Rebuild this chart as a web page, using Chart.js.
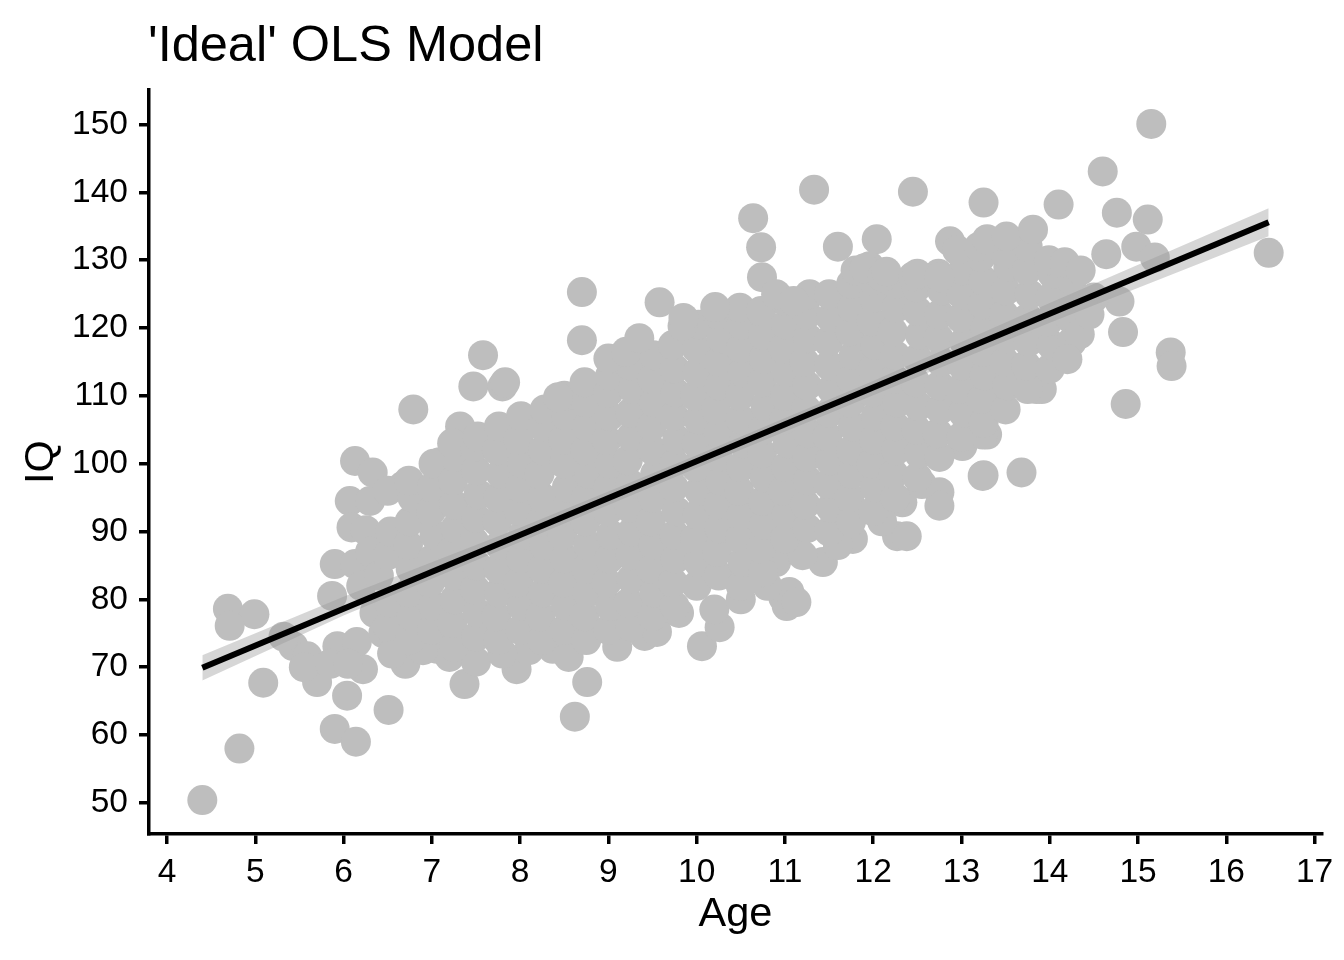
<!DOCTYPE html>
<html>
<head>
<meta charset="utf-8">
<title>'Ideal' OLS Model</title>
<script src="https://cdn.jsdelivr.net/npm/chart.js@4.4.1/dist/chart.umd.min.js"></script>
<style>
    html, body { margin: 0; padding: 0; background: #fff; }
    #wrap { width: 1344px; height: 960px; }
</style>
</head>
<body>
<div id="wrap"><canvas id="olsChart" width="1344" height="960"></canvas></div>
<script>
// Axis ticks
const xTicks = [4, 5, 6, 7, 8, 9, 10, 11, 12, 13, 14, 15, 16, 17];
const yTicks = [50, 60, 70, 80, 90, 100, 110, 120, 130, 140, 150];

// Fitted OLS line and its confidence band
const fitAge = [4.4, 16.48];
const fitIQ = [69.9, 135.6];
const bandAge = [4.4, 6, 8, 10, 12, 14, 16.48];
const bandLow = [68.05, 77.6, 88.45, 99.35, 110.1, 120.8, 133.55];
const bandHigh = [71.75, 80.4, 90.55, 101.25, 112.2, 123.7, 137.65];

// Scattered points on the low / left side of the cloud [age, IQ]
const leftTail = [
    [4.40, 50.4], [4.82, 58.0], [5.09, 67.7], [4.69, 78.6], [4.99, 77.8], [4.71, 76.1],
    [5.90, 60.9], [6.14, 59.0], [6.51, 63.7], [5.43, 73.1], [5.59, 71.6], [5.70, 67.8],
    [6.04, 65.8], [6.22, 69.7], [5.93, 73.1], [6.15, 73.7], [5.55, 70.0], [5.85, 70.5],
    [6.05, 70.5], [5.32, 74.5], [5.87, 80.5], [5.90, 85.2], [6.13, 85.2], [6.07, 94.5],
    [6.09, 90.6], [6.25, 90.2], [6.30, 87.0], [6.20, 82.0], [6.35, 78.0], [6.45, 75.0],
    [6.40, 83.5], [6.30, 94.5], [6.13, 100.4], [6.33, 98.7], [6.67, 96.7], [6.70, 70.5],
    [6.79, 108.0], [7.09, 100.2], [7.32, 105.5], [7.06, 72.7], [7.37, 67.5], [7.20, 71.5],
    [7.50, 70.8], [7.96, 69.7], [6.55, 72.0], [6.90, 72.5]
];

// Points under the cloud, middle and right
const lowerEdge = [
    [8.76, 67.8], [8.62, 62.7], [8.37, 72.7], [8.55, 71.5], [9.10, 73.0], [9.41, 74.6],
    [9.55, 79.6], [9.53, 77.0], [9.55, 75.2], [10.06, 73.1], [10.26, 75.9], [10.98, 80.3],
    [11.02, 79.0], [11.05, 81.1], [11.13, 79.6], [10.20, 78.5], [10.50, 80.0], [10.80, 82.0],
    [10.90, 85.5], [11.43, 85.5], [11.20, 86.5], [11.77, 88.9], [11.60, 88.0], [12.27, 89.3],
    [12.38, 89.3], [12.33, 94.3], [12.10, 91.5], [12.75, 95.8], [12.75, 93.8], [12.55, 97.0],
    [13.01, 102.6], [13.25, 98.3], [13.68, 98.7], [13.29, 104.3], [13.08, 108.8], [13.32, 111.0],
    [13.85, 111.0], [13.62, 112.9], [13.91, 111.0], [13.68, 113.5], [13.24, 104.3], [13.09, 108.3],
    [13.24, 98.2], [9.80, 78.0], [8.10, 72.5], [7.80, 72.0]
];

// Points above the cloud
const upperEdge = [
    [7.47, 111.4], [7.80, 111.4], [7.83, 112.0], [7.58, 116.0], [8.43, 109.8], [8.70, 118.2],
    [8.70, 125.3], [9.00, 115.5], [9.20, 116.5], [9.35, 118.5], [9.58, 123.8], [9.84, 120.3],
    [9.85, 121.5], [10.21, 123.1], [10.74, 127.5], [10.90, 125.0], [11.10, 124.0], [10.64, 136.2],
    [10.73, 131.9], [11.33, 140.4], [11.60, 132.0], [12.04, 133.1], [11.96, 129.1], [11.80, 128.5],
    [11.90, 128.8], [12.10, 127.5], [12.15, 128.3], [12.45, 127.6], [12.50, 128.0], [12.75, 127.5],
    [12.45, 140.1], [12.87, 132.8], [12.95, 131.5], [13.20, 132.0], [13.25, 138.5], [13.29, 133.1],
    [13.51, 133.5], [13.81, 134.5]
];

// Upper right end of the cloud
const rightTail = [
    [14.10, 138.2], [14.60, 143.1], [14.76, 137.0], [15.11, 136.0], [15.15, 150.1], [16.48, 131.1],
    [14.64, 130.9], [14.98, 132.0], [15.19, 130.4], [14.17, 129.7], [14.35, 128.5], [14.79, 123.9],
    [14.83, 119.4], [15.37, 116.4], [15.38, 114.4], [14.34, 119.1], [14.86, 108.8], [14.20, 115.4],
    [14.50, 124.5], [14.45, 122.0]
];

// Solid middle of the cloud, read column by column
const cloudCore = [
    [6.50, 76], [6.52, 79.5], [6.50, 86.5], [6.53, 90], [6.50, 96],
    [6.75, 74], [6.77, 77.5], [6.74, 81], [6.76, 84.5], [6.73, 88], [6.75, 91.5], [6.78, 95], [6.74, 97.5],
    [7.00, 75.5], [7.02, 79], [6.98, 82.5], [7.01, 86], [7.03, 89.5], [6.99, 93], [7.00, 96.5], [7.02, 100],
    [7.25, 73], [7.23, 76.5], [7.26, 80], [7.25, 83.5], [7.22, 87], [7.27, 90.5], [7.25, 94], [7.24, 97.5], [7.26, 101], [7.23, 103],
    [7.50, 74.5], [7.52, 78], [7.49, 81.5], [7.51, 85], [7.48, 88.5], [7.50, 92], [7.53, 95.5], [7.50, 99], [7.49, 102.5], [7.52, 104],
    [7.75, 74], [7.73, 77.5], [7.76, 81], [7.75, 84.5], [7.77, 88], [7.74, 91.5], [7.75, 95], [7.78, 98.5], [7.74, 102], [7.76, 105.5],
    [8.00, 75.5], [8.02, 79], [7.98, 82.5], [8.01, 86], [8.03, 89.5], [7.99, 93], [8.00, 96.5], [8.02, 100], [7.98, 103.5], [8.01, 107],
    [8.25, 74], [8.23, 77.5], [8.26, 81], [8.25, 84.5], [8.27, 88], [8.24, 91.5], [8.25, 95], [8.22, 98.5], [8.26, 102], [8.25, 105.5], [8.28, 108],
    [8.50, 75.5], [8.52, 79], [8.49, 82.5], [8.51, 86], [8.48, 89.5], [8.50, 93], [8.53, 96.5], [8.50, 100], [8.49, 103.5], [8.52, 107], [8.50, 110],
    [8.75, 74], [8.73, 77.5], [8.76, 81], [8.75, 84.5], [8.77, 88], [8.74, 91.5], [8.75, 95], [8.78, 98.5], [8.74, 102], [8.76, 105.5], [8.75, 109], [8.73, 112],
    [9.00, 75.5], [9.02, 79], [8.98, 82.5], [9.01, 86], [9.03, 89.5], [8.99, 93], [9.00, 96.5], [9.02, 100], [8.98, 103.5], [9.01, 107], [9.00, 110.5], [9.02, 113],
    [9.25, 76], [9.23, 79.5], [9.26, 83], [9.25, 86.5], [9.27, 90], [9.24, 93.5], [9.25, 97], [9.22, 100.5], [9.26, 104], [9.25, 107.5], [9.28, 111], [9.24, 114.5],
    [9.50, 77.5], [9.52, 81], [9.49, 84.5], [9.51, 88], [9.48, 91.5], [9.50, 95], [9.53, 98.5], [9.50, 102], [9.49, 105.5], [9.52, 109], [9.50, 112.5], [9.51, 116],
    [9.75, 79], [9.73, 82.5], [9.76, 86], [9.75, 89.5], [9.77, 93], [9.74, 96.5], [9.75, 100], [9.78, 103.5], [9.74, 107], [9.76, 110.5], [9.75, 114], [9.73, 117.5],
    [10.00, 82], [10.02, 85.5], [9.98, 89], [10.01, 92.5], [10.03, 96], [9.99, 99.5], [10.00, 103], [10.02, 106.5], [9.98, 110], [10.01, 113.5], [10.00, 117], [10.02, 120.5],
    [10.25, 83.5], [10.23, 87], [10.26, 90.5], [10.25, 94], [10.27, 97.5], [10.24, 101], [10.25, 104.5], [10.22, 108], [10.26, 111.5], [10.25, 115], [10.28, 118.5], [10.24, 122],
    [10.50, 82], [10.52, 85.5], [10.49, 89], [10.51, 92.5], [10.48, 96], [10.50, 99.5], [10.53, 103], [10.50, 106.5], [10.49, 110], [10.52, 113.5], [10.50, 117], [10.51, 120.5], [10.49, 123],
    [10.75, 84], [10.73, 87.5], [10.76, 91], [10.75, 94.5], [10.77, 98], [10.74, 101.5], [10.75, 105], [10.78, 108.5], [10.74, 112], [10.76, 115.5], [10.75, 119], [10.73, 122.5],
    [11.00, 89], [11.02, 92.5], [10.98, 96], [11.01, 99.5], [11.03, 103], [10.99, 106.5], [11.00, 110], [11.02, 113.5], [10.98, 117], [11.01, 120.5], [11.00, 124],
    [11.25, 90.5], [11.23, 94], [11.26, 97.5], [11.25, 101], [11.27, 104.5], [11.24, 108], [11.25, 111.5], [11.22, 115], [11.26, 118.5], [11.25, 122], [11.28, 125],
    [11.50, 90], [11.52, 93.5], [11.49, 97], [11.51, 100.5], [11.48, 104], [11.50, 107.5], [11.53, 111], [11.50, 114.5], [11.49, 118], [11.52, 121.5], [11.50, 125],
    [11.75, 91.5], [11.73, 95], [11.76, 98.5], [11.75, 102], [11.77, 105.5], [11.74, 109], [11.75, 112.5], [11.78, 116], [11.74, 119.5], [11.76, 123], [11.75, 126.5],
    [12.00, 93], [12.02, 96.5], [11.98, 100], [12.01, 103.5], [12.03, 107], [11.99, 110.5], [12.00, 114], [12.02, 117.5], [11.98, 121], [12.01, 124.5], [12.00, 127],
    [12.25, 95], [12.23, 98.5], [12.26, 102], [12.25, 105.5], [12.27, 109], [12.24, 112.5], [12.25, 116], [12.22, 119.5], [12.26, 123], [12.25, 126.5],
    [12.50, 98], [12.52, 101.5], [12.49, 105], [12.51, 108.5], [12.48, 112], [12.50, 115.5], [12.53, 119], [12.50, 122.5], [12.49, 126],
    [12.75, 101], [12.73, 104.5], [12.76, 108], [12.75, 111.5], [12.77, 115], [12.74, 118.5], [12.75, 122], [12.78, 125.5], [12.74, 128],
    [13.00, 104], [13.02, 107.5], [12.98, 111], [13.01, 114.5], [13.03, 118], [12.99, 121.5], [13.00, 125], [13.02, 128.5],
    [13.25, 106], [13.23, 109.5], [13.26, 113], [13.25, 116.5], [13.27, 120], [13.24, 123.5], [13.25, 127], [13.22, 130.5],
    [13.50, 108], [13.52, 111.5], [13.49, 115], [13.51, 118.5], [13.48, 122], [13.50, 125.5], [13.53, 129], [13.50, 131],
    [13.75, 111], [13.73, 114.5], [13.76, 118], [13.75, 121.5], [13.77, 125], [13.74, 128.5], [13.75, 132],
    [14.00, 114], [14.02, 117.5], [13.98, 121], [14.01, 124.5], [14.03, 128], [13.99, 130],
    [14.25, 118], [14.23, 121.5], [14.26, 125], [14.25, 127]
];

const FONT = "'Liberation Sans', Arial, Helvetica, sans-serif";

function toXY(pairs) {
    return pairs.map(function(p) {
        return { x: p[0], y: p[1] };
    });
}

// ggplot-like title, aligned with the panel's left edge
const titlePlugin = {
    id: 'plotTitle',
    afterDraw: function(chart) {
        const ctx = chart.ctx;
        ctx.save();
        ctx.fillStyle = '#000';
        ctx.font = '50.5px ' + FONT;
        ctx.textAlign = 'left';
        ctx.textBaseline = 'alphabetic';
        ctx.fillText("'Ideal' OLS Model", 148, 61);
        ctx.restore();
    }
};

document.addEventListener('DOMContentLoaded', function() {
    const allPoints = toXY([].concat(leftTail, lowerEdge, cloudCore, upperEdge, rightTail));
    const fitLine = fitAge.map(function(a, i) { return { x: a, y: fitIQ[i] }; });
    const bandTop = bandAge.map(function(a, i) { return { x: a, y: bandHigh[i] }; });
    const bandBottom = bandAge.map(function(a, i) { return { x: a, y: bandLow[i] }; });

    const axisTicks = {
        color: '#000',
        font: { family: FONT, size: 33.5 },
        padding: 11
    };
    const axisGrid = {
        display: true,
        drawOnChartArea: false,
        drawTicks: true,
        tickLength: 10,
        lineWidth: 3.5,
        color: '#000'
    };

    new Chart(document.getElementById('olsChart'), {
        type: 'scatter',
        data: {
            datasets: [
                {
                    type: 'line',
                    data: fitLine,
                    borderColor: '#000',
                    borderWidth: 6,
                    pointRadius: 0,
                    fill: false,
                    order: 0
                },
                {
                    type: 'line',
                    data: bandTop,
                    borderColor: 'rgba(0,0,0,0)',
                    borderWidth: 0,
                    pointRadius: 0,
                    fill: '+1',
                    backgroundColor: 'rgba(153,153,153,0.4)',
                    order: 1
                },
                {
                    type: 'line',
                    data: bandBottom,
                    borderColor: 'rgba(0,0,0,0)',
                    borderWidth: 0,
                    pointRadius: 0,
                    fill: false,
                    order: 1
                },
                {
                    data: allPoints,
                    backgroundColor: '#BEBEBE',
                    borderWidth: 0,
                    pointRadius: 15,
                    order: 2
                }
            ]
        },
        options: {
            responsive: false,
            animation: false,
            events: [],
            layout: { padding: { left: 0, right: 22, top: 90, bottom: 0 } },
            plugins: {
                legend: { display: false },
                tooltip: { enabled: false }
            },
            scales: {
                x: {
                    type: 'linear',
                    min: 3.796,
                    max: 17.084,
                    afterBuildTicks: function(axis) {
                        axis.ticks = xTicks.map(function(v) { return { value: v }; });
                    },
                    afterFit: function(axis) { axis.height = 126; },
                    ticks: Object.assign({}, axisTicks, { padding: 9 }),
                    grid: axisGrid,
                    border: { display: true, color: '#000', width: 3.5 },
                    title: {
                        display: true,
                        text: 'Age',
                        color: '#000',
                        font: { family: FONT, size: 41.5 },
                        padding: { top: 0, bottom: 21 }
                    }
                },
                y: {
                    type: 'linear',
                    min: 45.4,
                    max: 155.1,
                    afterBuildTicks: function(axis) {
                        axis.ticks = yTicks.map(function(v) { return { value: v }; });
                    },
                    afterFit: function(axis) { axis.width = 149; },
                    ticks: axisTicks,
                    grid: axisGrid,
                    border: { display: true, color: '#000', width: 3.5 },
                    title: {
                        display: true,
                        text: 'IQ',
                        color: '#000',
                        font: { family: FONT, size: 41.5 },
                        padding: { top: 17, bottom: 0 }
                    }
                }
            }
        },
        plugins: [titlePlugin]
    });
});
</script>
</body>
</html>
